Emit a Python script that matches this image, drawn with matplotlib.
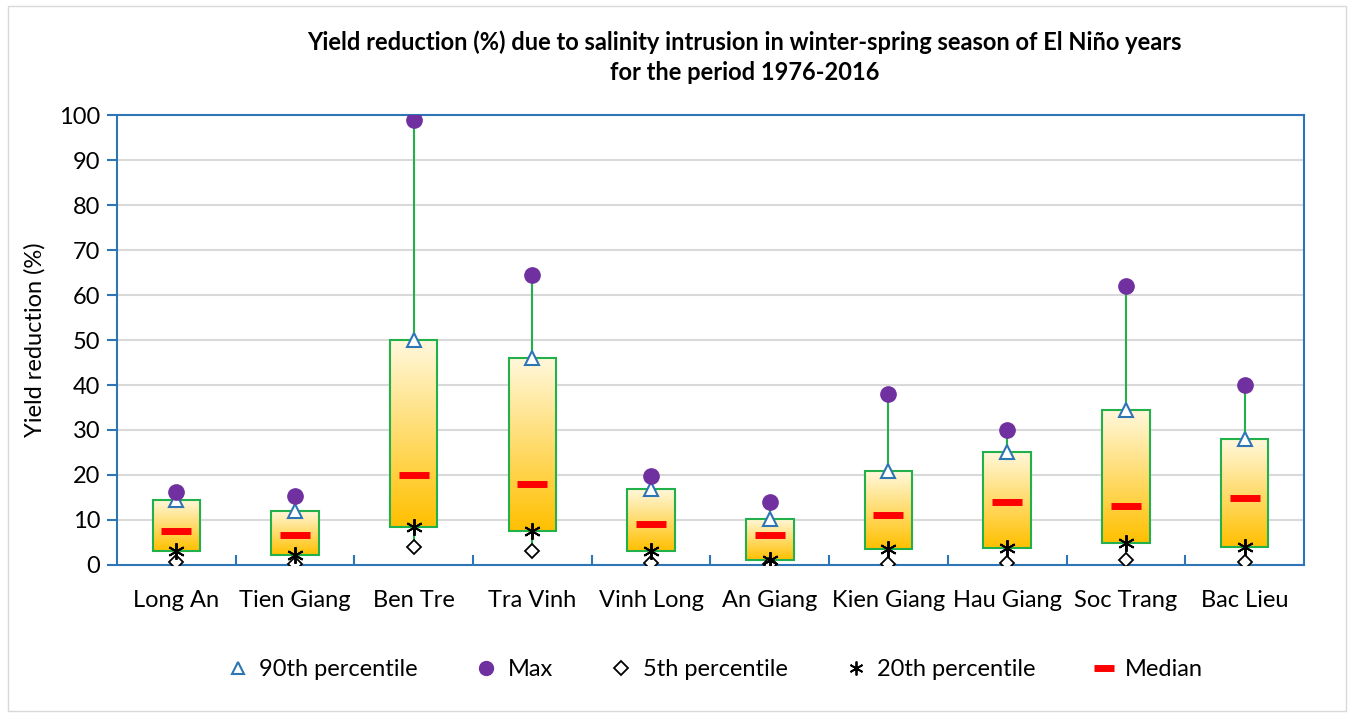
import numpy as np
import matplotlib.pyplot as plt
from matplotlib.colors import LinearSegmentedColormap
from matplotlib.patches import Rectangle
from matplotlib.lines import Line2D

plt.rcParams['font.family'] = ['Lato', 'DejaVu Sans']

provinces = ["Long An", "Tien Giang", "Ben Tre", "Tra Vinh", "Vinh Long",
             "An Giang", "Kien Giang", "Hau Giang", "Soc Trang", "Bac Lieu"]
p90 = [14.5, 12.0, 50.0, 46.0, 16.8, 10.2, 20.8, 25.2, 34.5, 28.0]
vmax = [16.3, 15.3, 99.0, 64.4, 19.7, 14.0, 38.0, 30.0, 62.0, 40.0]
p5 = [0.7, 0.2, 4.0, 3.0, 0.5, 0.2, 0.3, 0.5, 1.1, 0.6]
p20 = [3.1, 2.2, 8.5, 7.5, 3.2, 1.0, 3.6, 3.8, 4.8, 4.0]
median = [7.6, 6.7, 20.0, 18.0, 9.0, 6.7, 11.0, 14.0, 13.0, 14.8]

blue = "#2E75B6"
green = "#22B04B"
purple = "#7030A0"

fig = plt.figure(figsize=(13.54, 7.17), dpi=100)
ax = fig.add_axes([0.0864, 0.212, 0.8766, 0.6276])

# light frame round the whole chart
fig.patches.append(Rectangle((0.006, 0.008), 0.988, 0.984, transform=fig.transFigure,
                             fill=False, edgecolor="#D9D9D9", lw=1))

cmap = LinearSegmentedColormap.from_list("fill", ["#FFC000", "#FFF8DC"])
grad = np.linspace(0, 1, 256).reshape(-1, 1)
w = 0.40
x = np.arange(len(provinces))

for i in x:
    ax.plot([i, i], [p5[i], vmax[i]], color=green, lw=1.5, zorder=2)
    ax.imshow(grad, extent=[i - w / 2, i + w / 2, p20[i], p90[i]], origin="lower",
              aspect="auto", cmap=cmap, zorder=3)
    ax.add_patch(Rectangle((i - w / 2, p20[i]), w, p90[i] - p20[i], fill=False,
                           edgecolor=green, lw=1.5, zorder=4))

ax.plot(x, p90, ls="none", marker="^", ms=10, mfc="white", mec=blue, mew=1.5, zorder=6)
ax.plot(x, vmax, ls="none", marker="o", ms=11, color=purple, zorder=6)
ax.plot(x, p5, ls="none", marker="D", ms=7, mfc="white", mec="black", mew=1.3, zorder=6)
ax.plot(x, p20, ls="none", marker=(6, 2, 0), ms=12, color="black", mew=1.4, zorder=6)
ax.plot(x, median, ls="none", marker="_", ms=22, color="#FF0000", mew=5, zorder=6)

ax.set_xlim(-0.5, len(provinces) - 0.5)
ax.set_ylim(0, 100)
ax.set_yticks(range(0, 101, 10))
ax.yaxis.grid(True, color="#D9D9D9", lw=1.5)
ax.set_axisbelow(True)
ax.set_xticks(x)
ax.set_xticklabels(provinces, fontsize=17)
ax.set_xticks(np.arange(0.5, len(provinces) - 1, 1), minor=True)
ax.tick_params(axis="x", which="major", length=0, pad=18)
ax.tick_params(axis="x", which="minor", direction="in", length=7, color=blue, width=1.5)
ax.tick_params(axis="y", labelsize=17, length=7, color=blue, width=1.5, pad=5)
for s in ax.spines.values():
    s.set_color(blue)
    s.set_linewidth(1.5)

ax.set_ylabel("Yield reduction (%)", fontsize=17, labelpad=10)
fig.text(0.55, 0.92, "Yield reduction (%) due to salinity intrusion in winter-spring season of El Niño years\nfor the period 1976-2016",
         ha="center", va="center", fontsize=17, fontweight="bold", linespacing=1.35)

handles = [
    Line2D([], [], ls="none", marker="^", ms=9, mfc="white", mec=blue, mew=1.5),
    Line2D([], [], ls="none", marker="o", ms=10, color=purple),
    Line2D([], [], ls="none", marker="D", ms=7, mfc="white", mec="black", mew=1.3),
    Line2D([], [], ls="none", marker=(6, 2, 0), ms=10, color="black", mew=1.3),
    Line2D([], [], ls="none", marker="_", ms=14, color="#FF0000", mew=5),
]
labels = ["90th percentile", "Max", "5th percentile", "20th percentile", "Median"]
fig.legend(handles, labels, loc="center", bbox_to_anchor=(0.527, 0.066), ncol=5,
           frameon=False, fontsize=17, columnspacing=2.3, handletextpad=0.3, handlelength=1.2)

fig.savefig("out.png", dpi=100)
